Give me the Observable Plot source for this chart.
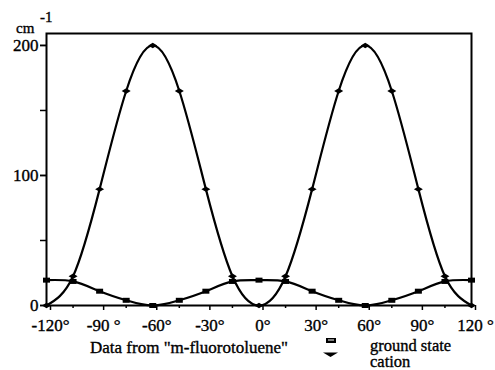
<!DOCTYPE html>
<html>
<head>
<meta charset="utf-8">
<script src="https://cdn.jsdelivr.net/npm/d3@7"></script>
<script src="https://cdn.jsdelivr.net/npm/@observablehq/plot@0.6"></script>
<style>
  html, body { margin: 0; padding: 0; background: #fff; }
  svg { display: block; }
  #chart svg, #chart svg text { font-family: "Liberation Serif", "DejaVu Serif", serif !important; }
  #chart svg text { stroke: black; stroke-width: 0.35px; }
</style>
</head>
<body>
<div id="chart"></div>
<script>
// ---- data ----
const angles = [-120, -105, -90, -75, -60, -45, -30, -15, 0, 15, 30, 45, 60, 75, 90, 105, 120];
const groundState = [19.5, 18.5, 11, 4, 0, 4, 11, 18.5, 19.5, 18.5, 11, 4, 0, 4, 11, 18.5, 19.5];
const cation = [0, 22.5, 89.5, 165, 200, 165, 89.5, 22.5, 0, 22.5, 89.5, 165, 200, 165, 89.5, 22.5, 0];
const xMajorTicks = [-120, -90, -60, -30, 0, 30, 60, 90, 120];
const xTickLabels = ["-120°", "-90 °", "-60°", "-30°", "0°", "30°", "60°", "90°", "120 °"];
const xMinorTicks = [-105, -75, -45, -15, 15, 45, 75, 105];
const yTicks = [0, 50, 100, 150, 200];
const yLabelTicks = [0, 100, 200];
const yTickLabels = ["0", "100", "200"];
const unitLabel = "cm";
const unitExp = "-1";
const footnote = "Data from \"m-fluorotoluene\"";
const seriesNames = ["ground state", "cation"];

const groundData = angles.map((a, i) => ({angle: a, value: groundState[i]}));
const cationData = angles.map((a, i) => ({angle: a, value: cation[i]}));

const diamond = {draw(ctx) { ctx.moveTo(-4.5, 0); ctx.lineTo(0, -2.7); ctx.lineTo(4.5, 0); ctx.lineTo(0, 2.7); ctx.closePath(); }};
const rectSym = {draw(ctx) { ctx.moveTo(-3.5, -2.5); ctx.lineTo(3.5, -2.5); ctx.lineTo(3.5, 2.5); ctx.lineTo(-3.5, 2.5); ctx.closePath(); }};

const chart = Plot.plot({
  width: 495,
  height: 370,
  marginLeft: 46,
  marginRight: 24,
  marginTop: 33,
  marginBottom: 65,
  style: {fontSize: "17px", color: "black", background: "white"},
  x: {domain: [-120, 120]},
  y: {domain: [0, 209.2]},
  marks: [
    Plot.axisX(xMinorTicks, {tickSize: 3, strokeWidth: 1.5, tickFormat: () => "", label: null}),
    Plot.axisX(xMajorTicks, {tickSize: 5, strokeWidth: 1.5, tickPadding: 8, dx: 4,
      tickFormat: d => xTickLabels[xMajorTicks.indexOf(d)], label: null, fontSize: 17}),
    Plot.axisY(yTicks, {tickSize: 6, strokeWidth: 1.5, tickFormat: () => "", label: null}),
    Plot.axisY(yLabelTicks, {tickSize: 6, strokeWidth: 1.5, tickPadding: 2,
      tickFormat: d => yTickLabels[yLabelTicks.indexOf(d)], label: null, fontSize: 17}),
    Plot.line(groundData, {x: "angle", y: "value", curve: "natural", stroke: "black", strokeWidth: 2.2}),
    Plot.line(cationData, {x: "angle", y: "value", curve: "natural", stroke: "black", strokeWidth: 2.2}),
    Plot.dot(groundData, {x: "angle", y: "value", symbol: rectSym, fill: "black", stroke: "none", r: 3}),
    Plot.dot(cationData, {x: "angle", y: "value", symbol: diamond, fill: "black", stroke: "none", r: 3}),
    Plot.frame({stroke: "black", strokeWidth: 2})
  ]
});
document.getElementById("chart").appendChild(chart);

// annotations
const svg = d3.select(chart);
const g = svg.append("g").attr("fill", "black").attr("text-anchor", "start");
g.append("text").attr("x", 16).attr("y", 33).attr("font-size", 15).text(unitLabel);
g.append("text").attr("x", 40).attr("y", 22).attr("font-size", 15).text(unitExp);
g.append("text").attr("x", 90).attr("y", 353).attr("font-size", 17).text(footnote);
g.append("text").attr("x", 370).attr("y", 351).attr("font-size", 16.5).text(seriesNames[0]);
g.append("text").attr("x", 370).attr("y", 367).attr("font-size", 16.5).text(seriesNames[1]);
// legend symbols
g.append("rect").attr("x", 326).attr("y", 338).attr("width", 10).attr("height", 5).attr("fill", "black");
g.append("line").attr("x1", 328).attr("x2", 334).attr("y1", 340).attr("y2", 340).attr("stroke", "white").attr("stroke-width", 1);
g.append("path").attr("d", "M323,352.5 L338,352.5 L330.5,357 Z").attr("fill", "black");
</script>
</body>
</html>
